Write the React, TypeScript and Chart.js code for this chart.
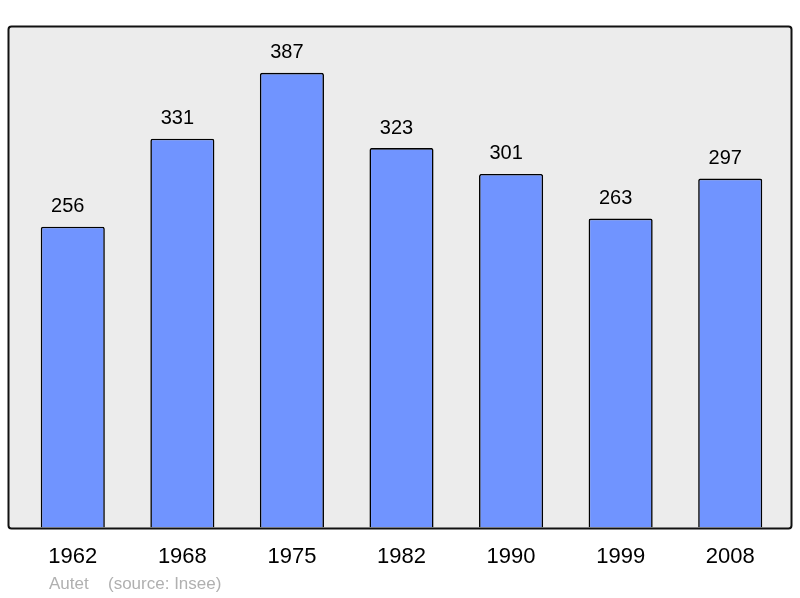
import React, { useEffect, useRef } from "react";
import { Chart, registerables } from "chart.js";

Chart.register(...registerables);

const years = ["1962", "1968", "1975", "1982", "1990", "1999", "2008"];
const population = [256, 331, 387, 323, 301, 263, 297];
const townName = "Autet";
const sourceNote = "(source: Insee)";

const FONT = "'Liberation Sans', Arial, sans-serif";

const framePlugin = {
  id: "frame",
  beforeDraw(chart: any) {
    const { ctx } = chart;
    ctx.save();
    ctx.fillStyle = "#ffffff";
    ctx.fillRect(0, 0, chart.width, chart.height);
    ctx.beginPath();
    (ctx as any).roundRect(8.5, 26.5, 783, 502, 3);
    ctx.fillStyle = "#ececec";
    ctx.fill();
    ctx.restore();
  },
  afterDatasetsDraw(chart: any) {
    const { ctx } = chart;
    ctx.save();
    ctx.beginPath();
    (ctx as any).roundRect(8.5, 26.5, 783, 502, 3);
    ctx.lineWidth = 2;
    ctx.strokeStyle = "#111111";
    ctx.stroke();

    const meta = chart.getDatasetMeta(0);
    ctx.fillStyle = "#000000";
    ctx.font = `20px ${FONT}`;
    ctx.textAlign = "center";
    ctx.textBaseline = "middle";
    meta.data.forEach((bar: any, i: number) => {
      ctx.fillText(String(population[i]), bar.x - 5, bar.y - 20);
    });

    ctx.fillStyle = "#b0b0b0";
    ctx.font = `17px ${FONT}`;
    ctx.textAlign = "left";
    ctx.fillText(townName, 49, 584);
    ctx.fillText(sourceNote, 108, 584);
    ctx.restore();
  },
};

export default function App() {
  const ref = useRef<HTMLCanvasElement | null>(null);
  useEffect(() => {
    if (!ref.current) return;
    const chart = new Chart(ref.current, {
      type: "bar",
      data: {
        labels: years,
        datasets: [
          {
            data: population,
            backgroundColor: "#7094ff",
            borderColor: "#000000",
            borderWidth: 1.6,
            borderRadius: 2,
            borderSkipped: "bottom",
            barPercentage: 0.585,
            categoryPercentage: 1,
          },
        ],
      },
      options: {
        animation: false,
        responsive: false,
        devicePixelRatio: 1,
        layout: { padding: { left: 18, right: 15, top: 27, bottom: 12 } },
        plugins: { legend: { display: false }, tooltip: { enabled: false } },
        scales: {
          x: {
            grid: { display: false, drawTicks: false },
            border: { display: false },
            ticks: { color: "#000000", font: { family: FONT, size: 22 }, padding: 16, maxRotation: 0 },
          },
          y: { display: false, min: 0, max: 426 },
        },
      },
      plugins: [framePlugin],
    });
    return () => chart.destroy();
  }, []);
  return (
    <div style={{ position: "fixed", left: 0, top: 0, width: 800, height: 598, background: "#fff" }}>
      <canvas ref={ref} width={800} height={598} style={{ display: "block" }} />
    </div>
  );
}
